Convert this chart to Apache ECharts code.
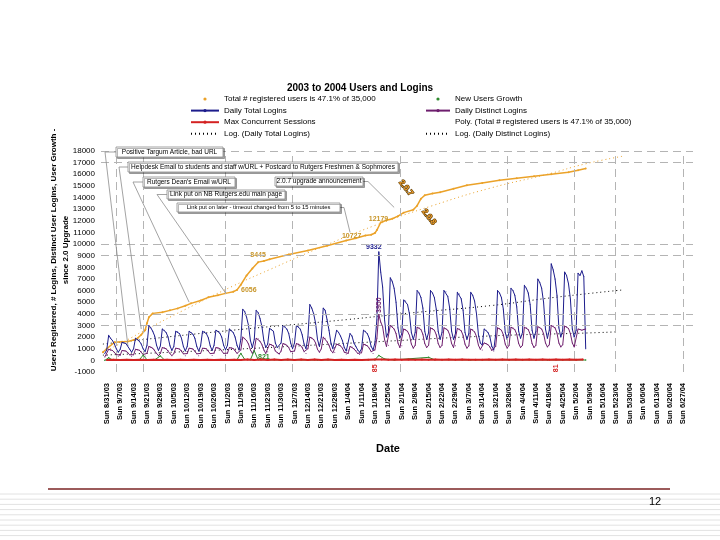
<!DOCTYPE html>
<html><head><meta charset="utf-8">
<script src="https://cdn.jsdelivr.net/npm/echarts@6.0.0/dist/echarts.min.js"></script>
<style>html,body{margin:0;padding:0;background:#fff}#c{width:720px;height:540px}</style>
</head><body><div id="c"></div><script>
// ---------- data ----------
const weekLabels = ['Sun 8/31/03','Sun 9/7/03','Sun 9/14/03','Sun 9/21/03','Sun 9/28/03','Sun 10/5/03','Sun 10/12/03','Sun 10/19/03','Sun 10/26/03','Sun 11/2/03','Sun 11/9/03','Sun 11/16/03','Sun 11/23/03','Sun 11/30/03','Sun 12/7/03','Sun 12/14/03','Sun 12/21/03','Sun 12/28/03','Sun 1/4/04','Sun 1/11/04','Sun 1/18/04','Sun 1/25/04','Sun 2/1/04','Sun 2/8/04','Sun 2/15/04','Sun 2/22/04','Sun 2/29/04','Sun 3/7/04','Sun 3/14/04','Sun 3/21/04','Sun 3/28/04','Sun 4/4/04','Sun 4/11/04','Sun 4/18/04','Sun 4/25/04','Sun 5/2/04','Sun 5/9/04','Sun 5/16/04','Sun 5/23/04','Sun 5/30/04','Sun 6/6/04','Sun 6/13/04','Sun 6/20/04','Sun 6/27/04'];
const daysPerLabel = 7;
const gridDays = [5, 19, 62, 97, 153, 209, 244, 265.5, 301];
const gridValues = [18000, 17000, 10000, 9000, 4000, 3000];

// Total # registered users (day index from Sun 8/31/03, value)
const totalUsersDays = [-2,0,4,8,11,14,16,18,20,21,22,24,29,33,37,41,44,49,53,58,62,66,68,70,73,76,79,82,85,95,105,115,125,130,135,138,140,141,143,146,149,152,155,160,162,164,166,170,174,181,188,196,205,214,223,232,241,246,250];
const totalUsersVals = [700,1000,1550,1600,1630,1750,1890,2200,2580,3200,3700,4040,4130,4300,4470,4700,4900,5150,5420,5600,5760,5900,6056,6500,7300,7900,8445,8550,8700,9100,9450,9850,10300,10500,10727,10800,10950,11200,11850,12050,12179,12400,12700,12950,13300,13900,14200,14350,14450,14750,15050,15250,15480,15650,15820,16000,16170,16350,16500];

// New users growth
const newUsersDays = [-1,1,3,10,17,19,21,25,28,30,40,55,68,70,72,75,77,79,90,110,130,140,142,145,150,168,171,190,210,230,250];
const newUsersVals = [0,220,40,30,40,450,60,40,380,50,30,40,60,600,80,60,821,60,40,30,40,60,420,120,40,260,60,40,40,40,30];

// Daily logins, one value per day starting Sat 8/30/03 (day -1)
const loginStartDay = -1;
const dailyTotalLogins = [
 600,
 900,2150,1900,1700,1400,1000,700,
 950,1550,1500,1450,1300,950,700,
 1000,1900,1800,1650,1400,1000,750,
 1300,3000,2800,2500,2100,1300,850,
 1250,2700,2600,2400,2000,1250,850,
 1200,2500,2450,2300,1900,1200,800,
 1200,2500,2400,2250,1900,1200,800,
 1250,2500,2450,2300,1950,1250,850,
 1300,2600,2500,2350,2000,1300,900,
 1300,2700,2550,2400,2000,1300,900,
 1800,4400,4200,3700,3000,1700,1100,
 1800,4300,4100,3600,2900,1700,1100,
 1400,2750,2650,2500,1500,1100,1000,
 1500,3000,2900,2700,2300,1500,1000,
 1500,3000,2900,2700,2200,1400,1000,
 2000,4800,4500,4000,3200,1800,1200,
 2000,4500,4300,3500,2600,1500,1000,
 1100,2600,2400,2100,1700,1100,800,
 900,2300,2100,1500,1200,900,700,
 1000,2600,2500,2300,1900,1200,900,
 1500,3500,9332,7600,6300,3500,2000,
 2400,7100,6800,6200,5000,2800,1900,
 2300,5200,5100,4800,4000,2400,1800,
 2400,6000,5800,5400,4500,2500,1800,
 2400,6000,5800,5400,4400,2500,1800,
 2400,6000,5900,5500,4500,2500,1800,
 2300,5850,5700,5300,4300,2400,1800,
 2300,5850,5600,5100,4000,2200,1500,
 1300,2700,2600,2400,2000,1200,900,
 2200,6000,5800,5400,4400,2400,1800,
 2400,6200,6000,5600,4600,2500,1900,
 2400,6450,6200,5800,4800,2600,1900,
 2500,7000,6700,6200,5000,2700,1900,
 2600,8300,7800,7000,5600,2800,2000,
 2600,7600,7300,6600,5300,2700,2000,
 2600,7500,7300,7700,7200,1000
];
const dailyDistinctLogins = [
 300,
 450,950,900,850,700,500,350,
 450,850,830,800,700,480,350,
 480,950,920,880,750,500,380,
 600,1200,1150,1050,900,600,400,
 600,1100,1080,1000,850,580,400,
 580,1050,1030,980,850,560,400,
 580,1050,1030,980,850,560,400,
 600,1050,1040,1000,860,580,420,
 620,1100,1080,1020,880,600,430,
 620,1100,1080,1020,880,600,450,
 900,2000,1900,1700,1400,900,600,
 900,1900,1850,1650,1350,900,600,
 750,1400,1350,1250,800,650,550,
 800,1450,1400,1300,1100,750,580,
 800,1450,1400,1300,1100,750,580,
 1000,2000,1950,1800,1500,950,700,
 1000,2000,1900,1600,1300,850,650,
 700,1400,1350,1250,1050,700,550,
 600,1200,1150,1000,850,600,500,
 650,1400,1350,1250,1050,750,600,
 900,1900,3950,3300,2900,1800,1200,
 1300,3000,2900,2700,2300,1500,1100,
 1250,2700,2650,2500,2150,1400,1050,
 1300,2850,2800,2650,2250,1450,1100,
 1300,2800,2750,2600,2200,1450,1100,
 1300,2800,2750,2600,2200,1450,1100,
 1250,2750,2700,2550,2150,1400,1050,
 1250,2700,2650,2450,2050,1300,950,
 900,1500,1450,1350,1150,850,800,
 1200,2800,2750,2600,2200,1400,1050,
 1300,2850,2800,2650,2250,1450,1100,
 1300,2850,2800,2650,2250,1450,1100,
 1300,2900,2850,2700,2300,1500,1150,
 1350,3000,2950,2800,2350,1500,1150,
 1350,2950,2900,2750,2300,1500,1150,
 1300,2700,2650,2600,2650,2700
];

// Max concurrent sessions, every 3.5 days from day 0
const maxSessionStartDay = 0;
const maxSessionStepDays = 3.5;
const maxSessions = [30,55,32,52,30,58,35,60,35,58,36,60,36,62,38,62,38,60,38,62,
 42,70,42,68,40,65,40,65,40,66,42,72,42,70,36,60,34,55,36,60,
 85,80,60,78,58,76,58,76,58,76,58,76,56,74,50,60,55,76,58,76,58,78,58,78,60,80,60,81,60,78,60,78];

// Trend lines
const polyDays = [-2,10,20,40,66,85,110,140,170,200,230,250,269];
const polyVals = [700,1700,2600,4300,6400,7800,9600,11600,13300,14800,16000,16900,17540];
const logTotalDays = [-2,60,125,160,200,233,269];
const logTotalVals = [1400,2500,3500,4100,4700,5400,6050];
const logDistinctDays = [-2,60,135,200,250,266];
const logDistinctVals = [450,900,1550,2100,2350,2450];

// Annotations
const notes = [
 {text:'Positive Targum Article, bad URL', day:11, value:1300},
 {text:'Helpdesk Email to students and staff w/URL + Postcard to Rutgers Freshmen & Sophmores', day:18, value:2700},
 {text:"Rutgers Dean's Email w/URL", day:43, value:5000},
 {text:'Link put on NB Rutgers.edu main page', day:62, value:5800},
 {text:'Link put on later - timeout changed from 5 to 15 minutes', day:127, value:11000},
 {text:'2.0.7 upgrade announcement', day:150, value:13150}
];

// ---------- chart ----------
const FONT = '"Liberation Sans", Arial, sans-serif';
const S_TOTAL = 'Total # registered users is 47.1% of 35,000';
const S_NEW = 'New Users Growth';
const S_DTL = 'Daily Total Logins';
const S_DDL = 'Daily Distinct Logins';
const S_MAX = 'Max Concurrent Sessions';
const S_POLY = 'Poly. (Total # registered users is 47.1% of 35,000)';
const S_LOGT = 'Log. (Daily Total Logins)';
const S_LOGD = 'Log. (Daily Distinct Logins)';

const YEL = '#EBA229', BLUE = '#1C1C8C', PURP = '#6E1E6E', RED = '#D42222', GREEN = '#2E8B2E';
const DOTS = [1, 3];

const pairs = (days, vals) => days.map((d, i) => [d, vals[i]]);
const seq = (start, step, vals) => vals.map((v, i) => [start + i * step, v]);

const lblBase = {show:true, fontSize:7, fontWeight:'bold', fontFamily:FONT, distance:3};
const yellowLabelPos = {68:'right', 79:'top', 135:'left', 149:'left'};
const totalData = pairs(totalUsersDays, totalUsersVals).map(p =>
  yellowLabelPos[p[0]] ? {value:p, label:Object.assign({}, lblBase, {position:yellowLabelPos[p[0]], color:'#C8962A'})} : p);

const blueData = seq(loginStartDay, 1, dailyTotalLogins).map(p =>
  p[0] === 142 ? {value:p, label:Object.assign({}, lblBase, {position:'top', offset:[-5,2], color:BLUE})} : p);
const purpData = seq(loginStartDay, 1, dailyDistinctLogins).map(p =>
  p[0] === 142 ? {value:p, label:Object.assign({}, lblBase, {position:'top', rotate:90, align:'left', verticalAlign:'middle', offset:[-2,0], color:PURP})} : p);
const redData = seq(maxSessionStartDay, maxSessionStepDays, maxSessions).map((p, i) =>
  (i === 40 || i === 67) ? {value:p, label:Object.assign({}, lblBase, {position:'bottom', rotate:90, align:'right', verticalAlign:'middle', distance:4, color:RED})} : p);
const greenData = pairs(newUsersDays, newUsersVals).map(p =>
  p[0] === 77 ? {value:p, label:Object.assign({}, lblBase, {position:'right', offset:[0,6], color:GREEN})} : p);

const chart = echarts.init(document.getElementById('c'));
const option = {
  animation:false,
  backgroundColor:'#fff',
  title:{text:'2003 to 2004 Users and Logins', left:'center', top:83, padding:0,
    textStyle:{fontSize:10, fontWeight:'bold', color:'#000', fontFamily:FONT}},
  legend:[
    {orient:'vertical', left:190, top:94, itemWidth:28, itemHeight:4, itemGap:1.6, padding:0, selectedMode:false,
     textStyle:{fontSize:8, lineHeight:10, color:'#000', fontFamily:FONT},
     data:[{name:S_TOTAL, lineStyle:{opacity:0}}, {name:S_DTL}, {name:S_MAX}, {name:S_LOGT, itemStyle:{opacity:0}}]},
    {orient:'vertical', left:425, top:94, itemWidth:24, itemHeight:4, itemGap:1.6, padding:0, selectedMode:false,
     textStyle:{fontSize:8, lineHeight:10, color:'#000', fontFamily:FONT},
     data:[{name:S_NEW, lineStyle:{opacity:0}}, {name:S_DDL}, {name:S_POLY, lineStyle:{opacity:0}, itemStyle:{opacity:0}}, {name:S_LOGD, itemStyle:{opacity:0}}]}
  ],
  grid:{left:101, right:27, top:151, bottom:168, containLabel:false},
  xAxis:{type:'value', min:-3, max:306,
    axisLine:{show:false}, axisTick:{show:false}, splitLine:{show:false},
    axisLabel:{customValues:weekLabels.map((_, i) => i * daysPerLabel), rotate:90, margin:11,
      fontSize:7.5, fontWeight:'bold', color:'#000', fontFamily:FONT,
      formatter:v => weekLabels[Math.round(v / daysPerLabel)] || ''}},
  yAxis:{type:'value', min:-1000, max:18000, interval:1000,
    axisLine:{show:false}, axisTick:{show:false}, splitLine:{show:false},
    axisLabel:{fontSize:8, color:'#000', margin:6, fontFamily:FONT, formatter:v => String(v)}},
  series:[
    {type:'line', name:'_grid', data:[], silent:true, z:1,
     markLine:{silent:true, symbol:['none','none'], label:{show:false},
       lineStyle:{color:'#b4b4b4', type:[8,5], width:1},
       data:[...gridDays.map(d => ({xAxis:d})), ...gridValues.map(v => ({yAxis:v}))]}},
    {type:'line', name:S_POLY, data:pairs(polyDays, polyVals), smooth:true, showSymbol:false, z:2,
     lineStyle:{color:YEL, width:1, type:DOTS}, itemStyle:{color:YEL}},
    {type:'line', name:S_TOTAL, data:totalData, z:3, symbol:'circle', symbolSize:2, showSymbol:true,
     lineStyle:{color:YEL, width:1.5}, itemStyle:{color:YEL}},
    {type:'line', name:S_LOGT, data:pairs(logTotalDays, logTotalVals), smooth:true, showSymbol:false, z:2,
     lineStyle:{color:'#000', width:1, type:DOTS}, itemStyle:{color:'#000'}},
    {type:'line', name:S_LOGD, data:pairs(logDistinctDays, logDistinctVals), smooth:true, showSymbol:false, z:2,
     lineStyle:{color:'#000', width:1, type:DOTS}, itemStyle:{color:'#000'}},
    {type:'line', name:S_DTL, data:blueData, z:4, symbol:'circle', symbolSize:1, showSymbol:true,
     lineStyle:{color:BLUE, width:1}, itemStyle:{color:BLUE}},
    {type:'line', name:S_DDL, data:purpData, z:5, symbol:'circle', symbolSize:1, showSymbol:true,
     lineStyle:{color:PURP, width:1}, itemStyle:{color:PURP}},
    {type:'line', name:S_NEW, data:greenData, z:6, symbol:'circle', symbolSize:1.5, showSymbol:true,
     lineStyle:{color:GREEN, width:1}, itemStyle:{color:GREEN}},
    {type:'line', name:S_MAX, data:redData, z:7, symbol:'circle', symbolSize:2, showSymbol:true,
     lineStyle:{color:RED, width:2}, itemStyle:{color:RED}}
  ]
};
chart.setOption(option);

// ---------- annotations & slide decoration ----------
const boxes = [
  {x:116, y:147, w:107, h:10, lx:105, side:'left', fs:6.5},
  {x:128, y:162, w:270, h:10, lx:119, side:'left', fs:6.5},
  {x:143, y:177, w:92,  h:10, lx:133, side:'left', fs:6.5},
  {x:167, y:190, w:118, h:9,  lx:157, side:'left', fs:6.5},
  {x:177, y:203, w:163, h:9,  lx:344, side:'right', fs:5.8},
  {x:275, y:177, w:88,  h:9,  lx:368, side:'right', fs:6.5}
];
const g = [];
notes.forEach((n, i) => {
  const b = boxes[i];
  const end = chart.convertToPixel({xAxisIndex:0, yAxisIndex:0}, [n.day, n.value]);
  const my = b.y + b.h / 2;
  const sx = b.side === 'left' ? b.x : b.x + b.w;
  g.push({type:'polyline', z:100, silent:true, shape:{points:[[sx, my], [b.lx, my], end]},
          style:{stroke:'#8c8c8c', lineWidth:0.8, fill:null}});
  g.push({type:'rect', z:101, silent:true, shape:{x:b.x, y:b.y, width:b.w, height:b.h},
          style:{fill:'#fff', stroke:'#8a8a8a', lineWidth:0.8, shadowColor:'rgba(0,0,0,0.35)', shadowOffsetX:1.5, shadowOffsetY:1.5, shadowBlur:0}});
  g.push({type:'text', z:102, silent:true, x:b.x + b.w / 2, y:my,
          style:{text:n.text, align:'center', verticalAlign:'middle', font:b.fs + 'px ' + FONT, fill:'#000'}});
});
// upgrade stamps
[['2.0.7', 406, 188], ['2.0.8', 429, 217]].forEach(s => {
  g.push({type:'text', z:103, silent:true, x:s[1], y:s[2], rotation:-0.9,
          style:{text:s[0], align:'center', verticalAlign:'middle', font:'bold 8px ' + FONT,
                 fill:'#F0A030', stroke:'#5a3a00', lineWidth:1.2}});
});
// axis titles
g.push({type:'text', silent:true, x:60, y:250, rotation:Math.PI / 2,
  style:{text:'Users Registered, # Logins, Distinct User Logins, User Growth -\nsince 2.0 Upgrade',
         align:'center', verticalAlign:'middle', font:'bold 8px ' + FONT, lineHeight:12, fill:'#000'}});
g.push({type:'text', silent:true, x:388, y:449,
  style:{text:'Date', align:'center', verticalAlign:'middle', font:'bold 11px ' + FONT, fill:'#000'}});
// footer
for (let k = 0; k < 9; k++) {
  const yy = 494 + k * 5.2;
  g.push({type:'line', silent:true, z:0, shape:{x1:0, y1:yy, x2:720, y2:yy}, style:{stroke:'#e2e2e2', lineWidth:1}});
}
g.push({type:'line', silent:true, shape:{x1:48, y1:489, x2:670, y2:489}, style:{stroke:'#7B2424', lineWidth:1.5}});
g.push({type:'text', silent:true, x:655, y:502,
  style:{text:'12', align:'center', verticalAlign:'middle', font:'11px ' + FONT, fill:'#000'}});
chart.setOption({graphic:{elements:g}});
</script></body></html>
